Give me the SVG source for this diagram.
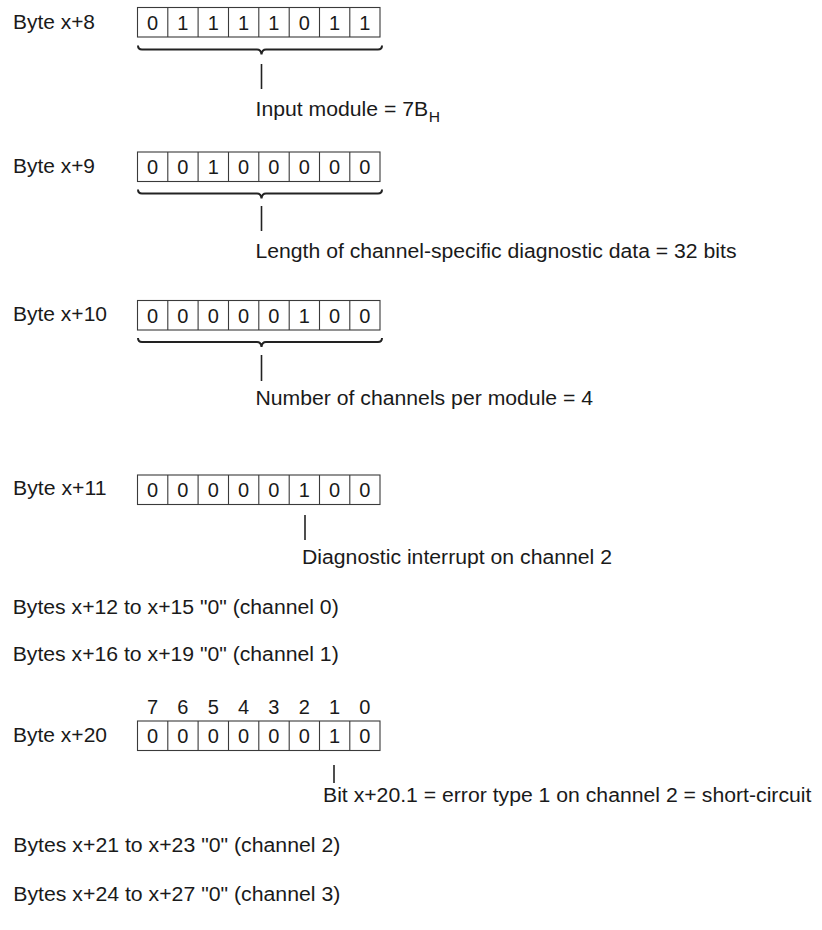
<svg xmlns="http://www.w3.org/2000/svg" width="822" height="930" viewBox="0 0 822 930">
<style>
text{font-family:"Liberation Sans",Arial,Helvetica,sans-serif;font-size:20px;fill:#1a1a1a}
.d{text-anchor:middle}
.box{fill:none;stroke:#3a3a3a;stroke-width:1.1}
.div{stroke:#3a3a3a;stroke-width:1.1}
.brace{fill:none;stroke:#222;stroke-width:2}
.ln{stroke:#222;stroke-width:1.6}
</style>
<defs>
<g id="cells">
<rect class="box" x="137.5" y="0" width="242.5" height="29.5"/>
<path class="div" d="M167.8,0V29.5M198.1,0V29.5M228.5,0V29.5M258.8,0V29.5M289.2,0V29.5M319.5,0V29.5M349.8,0V29.5"/>
</g>
<path id="br" class="brace" d="M138,0 Q138,4 142,4 L257,4 Q261,4 261.5,9 Q262,4 266,4 L378,4 Q382,4 382,0"/>
</defs>

<g id="byte8">
<text x="13" y="29" textLength="82" lengthAdjust="spacingAndGlyphs">Byte x+8</text>
<use href="#cells" y="7.5"/>
<text class="d" x="152.5" y="29.5">0</text><text class="d" x="182.8" y="29.5">1</text><text class="d" x="213.2" y="29.5">1</text><text class="d" x="243.5" y="29.5">1</text><text class="d" x="273.8" y="29.5">1</text><text class="d" x="304.2" y="29.5">0</text><text class="d" x="334.5" y="29.5">1</text><text class="d" x="364.9" y="29.5">1</text>
</g>
<g id="note8">
<text x="255.5" y="116" textLength="172.6" lengthAdjust="spacingAndGlyphs">Input module = 7B</text>
<text x="428.8" y="121.5" style="font-size:14.5px" textLength="11.3" lengthAdjust="spacingAndGlyphs">H</text>
</g>

<g id="byte9">
<text x="13" y="172.5" textLength="82" lengthAdjust="spacingAndGlyphs">Byte x+9</text>
<use href="#cells" y="152"/>
<text class="d" x="152.5" y="174">0</text><text class="d" x="182.8" y="174">0</text><text class="d" x="213.2" y="174">1</text><text class="d" x="243.5" y="174">0</text><text class="d" x="273.8" y="174">0</text><text class="d" x="304.2" y="174">0</text><text class="d" x="334.5" y="174">0</text><text class="d" x="364.9" y="174">0</text>
</g>
<g id="note9">
<text x="255.5" y="258" textLength="481" lengthAdjust="spacingAndGlyphs">Length of channel-specific diagnostic data = 32 bits</text>
</g>

<g id="byte10">
<text x="13" y="320.5" textLength="94" lengthAdjust="spacingAndGlyphs">Byte x+10</text>
<use href="#cells" y="300.5"/>
<text class="d" x="152.5" y="322.5">0</text><text class="d" x="182.8" y="322.5">0</text><text class="d" x="213.2" y="322.5">0</text><text class="d" x="243.5" y="322.5">0</text><text class="d" x="273.8" y="322.5">0</text><text class="d" x="304.2" y="322.5">1</text><text class="d" x="334.5" y="322.5">0</text><text class="d" x="364.9" y="322.5">0</text>
</g>
<g id="note10">
<text x="255.5" y="405" textLength="337.6" lengthAdjust="spacingAndGlyphs">Number of channels per module = 4</text>
</g>

<g id="byte11">
<text x="13" y="494.5" textLength="93.5" lengthAdjust="spacingAndGlyphs">Byte x+11</text>
<use href="#cells" y="475"/>
<text class="d" x="152.5" y="497.3">0</text><text class="d" x="182.8" y="497.3">0</text><text class="d" x="213.2" y="497.3">0</text><text class="d" x="243.5" y="497.3">0</text><text class="d" x="273.8" y="497.3">0</text><text class="d" x="304.2" y="497.3">1</text><text class="d" x="334.5" y="497.3">0</text><text class="d" x="364.9" y="497.3">0</text>
</g>
<g id="note11">
<text x="302" y="564" textLength="310" lengthAdjust="spacingAndGlyphs">Diagnostic interrupt on channel 2</text>
</g>

<g id="bytes12-15">
<text x="12.7" y="613.5" textLength="326" lengthAdjust="spacingAndGlyphs">Bytes x+12 to x+15 "0" (channel 0)</text>
</g>
<g id="bytes16-19">
<text x="12.7" y="661" textLength="326" lengthAdjust="spacingAndGlyphs">Bytes x+16 to x+19 "0" (channel 1)</text>
</g>

<g id="byte20">
<text class="d" x="152.5" y="714">7</text><text class="d" x="182.8" y="714">6</text><text class="d" x="213.2" y="714">5</text><text class="d" x="243.5" y="714">4</text><text class="d" x="273.8" y="714">3</text><text class="d" x="304.2" y="714">2</text><text class="d" x="334.5" y="714">1</text><text class="d" x="364.9" y="714">0</text>
<text x="13" y="741.5" textLength="94" lengthAdjust="spacingAndGlyphs">Byte x+20</text>
<use href="#cells" y="721"/>
<text class="d" x="152.5" y="742.8">0</text><text class="d" x="182.8" y="742.8">0</text><text class="d" x="213.2" y="742.8">0</text><text class="d" x="243.5" y="742.8">0</text><text class="d" x="273.8" y="742.8">0</text><text class="d" x="304.2" y="742.8">0</text><text class="d" x="334.5" y="742.8">1</text><text class="d" x="364.9" y="742.8">0</text>
</g>
<g id="note20">
<text x="323" y="801.5" textLength="488.4" lengthAdjust="spacingAndGlyphs">Bit x+20.1 = error type 1 on channel 2 = short-circuit</text>
</g>

<g id="bytes21-23">
<text x="13.3" y="852" textLength="327" lengthAdjust="spacingAndGlyphs">Bytes x+21 to x+23 "0" (channel 2)</text>
</g>
<g id="bytes24-27">
<text x="13.3" y="901" textLength="327" lengthAdjust="spacingAndGlyphs">Bytes x+24 to x+27 "0" (channel 3)</text>
</g>

<g id="connectors">
<use href="#br" y="45.5"/>
<line class="ln" x1="261.5" y1="64" x2="261.5" y2="89"/>
<use href="#br" y="189.5"/>
<line class="ln" x1="261.5" y1="206" x2="261.5" y2="231"/>
<use href="#br" y="338"/>
<line class="ln" x1="261.5" y1="355" x2="261.5" y2="381"/>
<line class="ln" x1="305" y1="515" x2="305" y2="540"/>
<line class="ln" x1="334" y1="765" x2="334" y2="783"/>
</g>
</svg>
